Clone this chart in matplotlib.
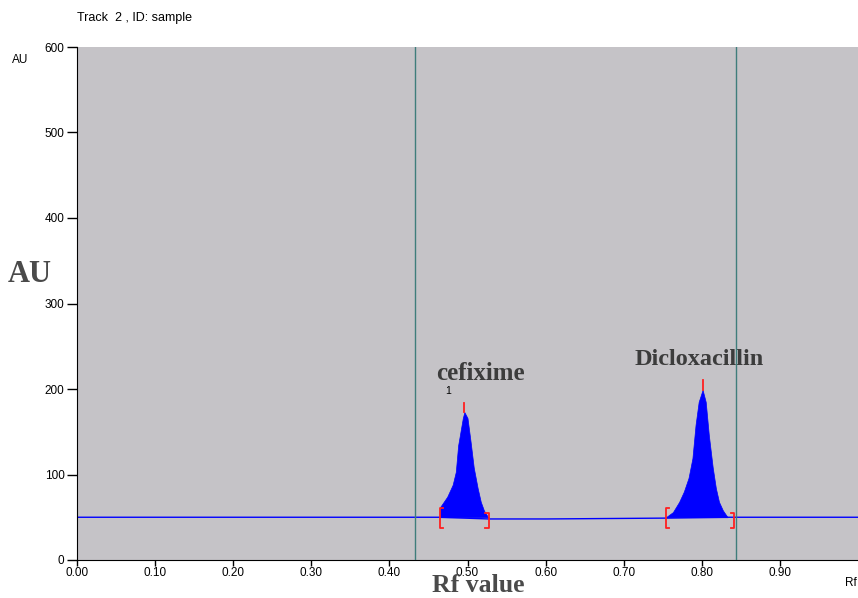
import matplotlib
matplotlib.use("Agg")
import matplotlib.pyplot as plt
import numpy as np

# Densitogram values (Rf, AU)
BASELINE = 50
baseline_rf = [0.0, 0.43, 0.465, 0.527, 0.60, 0.754, 0.833, 1.0]
baseline_au = [50, 50, 50, 48, 48, 49, 50, 50]

cefix_rf = [0.465, 0.474, 0.481, 0.485, 0.488, 0.494, 0.496, 0.500,
            0.504, 0.508, 0.513, 0.517, 0.521, 0.527]
cefix_au = [62, 74, 88, 103, 134, 166, 173, 166, 138, 108, 84, 68, 58, 49]

diclo_rf = [0.754, 0.763, 0.771, 0.777, 0.783, 0.788, 0.792, 0.796,
            0.801, 0.805, 0.809, 0.814, 0.818, 0.822, 0.827, 0.833]
diclo_au = [50, 56, 68, 80, 96, 119, 158, 185, 199, 185, 146, 108, 84,
            68, 58, 50]

# integration limits and peak maxima (Rf)
limits_start = [0.465, 0.754]
limits_end = [0.527, 0.841]
peak_rf = [0.496, 0.801]
peak_au = [173, 199]
peak_names = ["cefixime", "Dicloxacillin"]

# track borders
track_lines = [0.433, 0.8436]

xticks = [0.0, 0.1, 0.2, 0.3, 0.4, 0.5, 0.6, 0.7, 0.8, 0.9]
yticks = [0, 100, 200, 300, 400, 500, 600]

fig = plt.figure(figsize=(8.58, 5.98), dpi=100)
ax = fig.add_axes([77 / 858, 38 / 598, 781 / 858, 513 / 598])
ax.set_facecolor("#c5c3c7")

ax.plot(baseline_rf, baseline_au, color="#0000ff", lw=1.0, zorder=2)
ax.fill_between(cefix_rf, BASELINE, cefix_au, color="#0000ff", lw=0.5, zorder=3)
ax.fill_between(diclo_rf, BASELINE, diclo_au, color="#0000ff", lw=0.5, zorder=3)

for x in track_lines:
    ax.axvline(x, color="#3f7d7b", lw=1.0, zorder=4)

# red integration marks
red = "#ff2020"
for xs, xe in zip(limits_start, limits_end):
    ax.plot([xs + 0.004, xs, xs, xs + 0.004], [38, 38, 61, 61], color=red, lw=1.3, zorder=5)
    ax.plot([xe - 0.004, xe, xe, xe - 0.004], [38, 38, 55, 55], color=red, lw=1.3, zorder=5)
for x, y in zip(peak_rf, peak_au):
    ax.plot([x, x], [y, y + 11], color=red, lw=1.3, zorder=5)

ax.text(0.517, 205, peak_names[0], fontsize=18, fontweight="bold",
        family="Liberation Serif", color="#3c3c3c", ha="center", va="bottom")
ax.text(0.796, 222, peak_names[1], fontsize=17.5, fontweight="bold",
        family="Liberation Serif", color="#3c3c3c", ha="center", va="bottom")
ax.text(0.475, 192, "1", fontsize=7.5, family="Liberation Sans", ha="center", va="bottom")

ax.set_xlim(0, 1.0)
ax.set_ylim(0, 600)
ax.set_xticks(xticks)
ax.set_xticklabels([f"{v:.2f}" for v in xticks], family="Liberation Sans", fontsize=8.5)
ax.set_yticks(yticks)
ax.set_yticklabels([str(v) for v in yticks], family="Liberation Sans", fontsize=8.5)
ax.tick_params(axis="x", direction="out", length=4, width=1, pad=1)
ax.tick_params(axis="y", direction="out", length=7, width=1, pad=2)
ax.spines["top"].set_visible(False)
ax.spines["right"].set_visible(False)

fig.text(77 / 858, 1 - 18 / 598, "Track  2 , ID: sample", fontsize=9,
         family="Liberation Sans", va="center")
fig.text(12 / 858, 1 - 60 / 598, "AU", fontsize=8.5, family="Liberation Sans", va="center")
fig.text(845 / 858, 1 - 583 / 598, "Rf", fontsize=8.5, family="Liberation Sans", va="center")
fig.text(30 / 858, 1 - 275 / 598, "AU", fontsize=22, fontweight="bold",
         family="Liberation Serif", color="#4a4a4a", ha="center", va="center")
fig.text(478 / 858, 1 - 586 / 598, "Rf value", fontsize=18.5, fontweight="bold",
         family="Liberation Serif", color="#4a4a4a", ha="center", va="center")

fig.savefig("out.png", dpi=100)
